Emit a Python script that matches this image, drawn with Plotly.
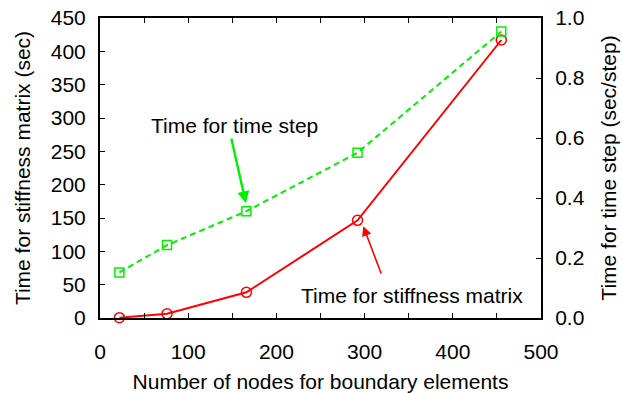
import plotly.graph_objects as go

nodes = [22, 76, 166, 292, 455]
stiffness_sec = [0.5, 6.4, 38.5, 146.5, 417]
timestep_sec = [0.152, 0.243, 0.356, 0.551, 0.955]

FONT = "Liberation Sans, Arial, sans-serif"
fs = 21

fig = go.Figure()
fig.add_trace(go.Scatter(
    x=nodes, y=stiffness_sec, mode="lines+markers",
    line=dict(color="#ff0000", width=2),
    marker=dict(symbol="circle-open", size=10, color="#ff0000", line=dict(width=1.5)),
    showlegend=False, cliponaxis=False))
fig.add_trace(go.Scatter(
    x=nodes, y=timestep_sec, mode="lines+markers", yaxis="y2",
    line=dict(color="#00f000", width=2, dash="6px,4px"),
    marker=dict(symbol="square-open", size=9, color="#00f000", line=dict(width=1.5)),
    showlegend=False, cliponaxis=False))

fig.update_layout(
    width=622, height=393,
    margin=dict(l=100, r=81, t=18, b=75),
    paper_bgcolor="white", plot_bgcolor="white",
    font=dict(family=FONT, size=fs, color="black"),
    xaxis=dict(range=[0, 500], tickvals=list(range(0, 501, 50)),
               ticktext=[str(v) if v % 100 == 0 else "" for v in range(0, 501, 50)],
               ticks="inside", ticklen=5, tickwidth=1, tickcolor="black",
               showline=True, linecolor="black", linewidth=2, mirror="ticks",
               showgrid=False, zeroline=False, ticklabelstandoff=14, automargin=False,
               title=dict(text="Number of nodes for boundary elements", font=dict(size=fs), standoff=14)),
    yaxis=dict(range=[0, 450], dtick=50, ticks="inside", ticklen=5, tickwidth=1, tickcolor="black",
               showline=True, linecolor="black", linewidth=2, automargin=False,
               showgrid=False, zeroline=False, ticklabelstandoff=8,
               title=dict(text="Time for stiffness matrix (sec)", font=dict(size=fs), standoff=14)),
    yaxis2=dict(range=[0, 1], dtick=0.2, tickformat=".1f", overlaying="y", side="right",
                ticks="inside", ticklen=5, tickwidth=1, tickcolor="black",
                showline=True, linecolor="black", linewidth=2, automargin=False,
                showgrid=False, zeroline=False, ticklabelstandoff=8,
                title=dict(text="Time for time step (sec/step)", font=dict(size=fs), standoff=18)),
)

fig.add_annotation(x=152.7, y=289, xref="x", yref="y", text="Time for time step",
                   showarrow=False, font=dict(size=fs))
fig.add_annotation(x=353.3, y=34.4, xref="x", yref="y", text="Time for stiffness matrix",
                   showarrow=False, font=dict(size=fs))
fig.add_annotation(x=165.5, y=172, ax=148.5, ay=271.4, xref="x", yref="y", axref="x", ayref="y",
                   text="", showarrow=True, arrowhead=2, arrowsize=1, arrowwidth=2.4,
                   arrowcolor="#00f000", standoff=0)
fig.add_annotation(x=298.5, y=137.7, ax=319.4, ay=64.4, xref="x", yref="y", axref="x", ayref="y",
                   text="", showarrow=True, arrowhead=2, arrowsize=1.2, arrowwidth=1.6,
                   arrowcolor="#ff0000", standoff=0)

fig.write_html("out.html")
